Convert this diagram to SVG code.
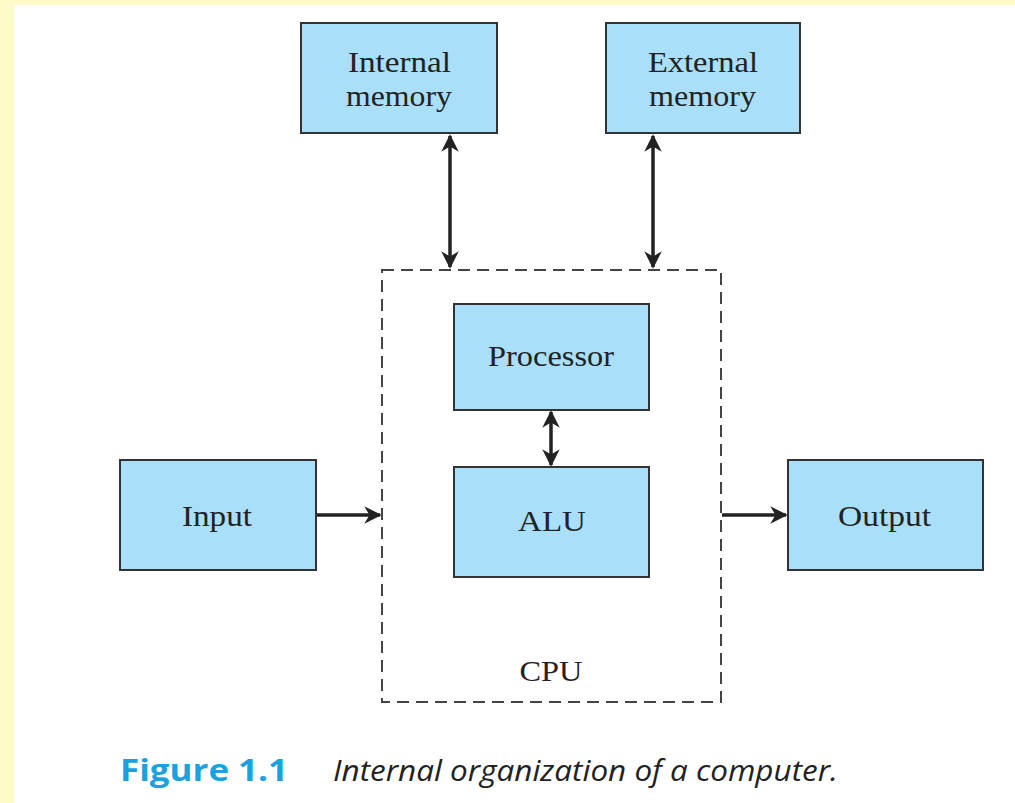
<svg xmlns="http://www.w3.org/2000/svg" width="1015" height="803" viewBox="0 0 1015 803">
<style>
.box{fill:#a9dff8;stroke:#333;stroke-width:2}
.lbl{font-family:"Liberation Serif",serif;font-size:29px;fill:#222;text-anchor:middle}
.conn{stroke:#222;stroke-width:3.5;fill:none}
</style>
<defs>
<marker id="ah" viewBox="0 0 10 10" refX="9" refY="5" markerWidth="5" markerHeight="5" orient="auto-start-reverse" markerUnits="strokeWidth">
<path d="M0,0 L10,5 L0,10 L3,5 Z" fill="#222"/>
</marker>
</defs>
<rect x="0" y="0" width="1015" height="803" fill="#fffbc8"/>
<rect x="14" y="5" width="1001" height="798" fill="#fff"/>
<g id="cpu">
<rect x="382" y="270" width="339" height="432" fill="none" stroke="#444" stroke-width="2" stroke-dasharray="12,7"/>
<text class="lbl" x="551" y="681" textLength="63" lengthAdjust="spacingAndGlyphs">CPU</text>
</g>
<g id="internal-memory">
<rect class="box" x="301" y="23" width="196" height="110"/>
<text class="lbl" x="399.5" y="72" textLength="103" lengthAdjust="spacingAndGlyphs">Internal</text>
<text class="lbl" x="399" y="106" textLength="106" lengthAdjust="spacingAndGlyphs">memory</text>
</g>
<g id="external-memory">
<rect class="box" x="606" y="23" width="194" height="110"/>
<text class="lbl" x="703" y="72" textLength="110" lengthAdjust="spacingAndGlyphs">External</text>
<text class="lbl" x="702.5" y="106" textLength="107" lengthAdjust="spacingAndGlyphs">memory</text>
</g>
<g id="processor">
<rect class="box" x="454" y="304" width="195" height="106"/>
<text class="lbl" x="551" y="366" textLength="126" lengthAdjust="spacingAndGlyphs">Processor</text>
</g>
<g id="alu">
<rect class="box" x="454" y="467" width="195" height="110"/>
<text class="lbl" x="552" y="531" textLength="68" lengthAdjust="spacingAndGlyphs">ALU</text>
</g>
<g id="input">
<rect class="box" x="120" y="460" width="196" height="110"/>
<text class="lbl" x="217" y="526" textLength="70" lengthAdjust="spacingAndGlyphs">Input</text>
</g>
<g id="output">
<rect class="box" x="788" y="460" width="195" height="110"/>
<text class="lbl" x="884.5" y="526" textLength="93" lengthAdjust="spacingAndGlyphs">Output</text>
</g>
<g id="connectors">
<line class="conn" x1="450" y1="136" x2="450" y2="267" marker-start="url(#ah)" marker-end="url(#ah)"/>
<line class="conn" x1="653" y1="136" x2="653" y2="267" marker-start="url(#ah)" marker-end="url(#ah)"/>
<line class="conn" x1="551" y1="412" x2="551" y2="465" marker-start="url(#ah)" marker-end="url(#ah)"/>
<line class="conn" x1="317" y1="515" x2="380" y2="515" marker-end="url(#ah)"/>
<line class="conn" x1="722" y1="515" x2="786" y2="515" marker-end="url(#ah)"/>
</g>
<g id="caption">
<text x="120" y="781" font-family="'Open Sans',sans-serif" font-weight="bold" font-size="31" fill="#1ba1e2" textLength="168" lengthAdjust="spacingAndGlyphs">Figure 1.1</text>
<text x="333" y="781" font-family="'Open Sans',sans-serif" font-style="italic" font-size="29" fill="#222" textLength="505" lengthAdjust="spacingAndGlyphs">Internal organization of a computer.</text>
</g>
</svg>
